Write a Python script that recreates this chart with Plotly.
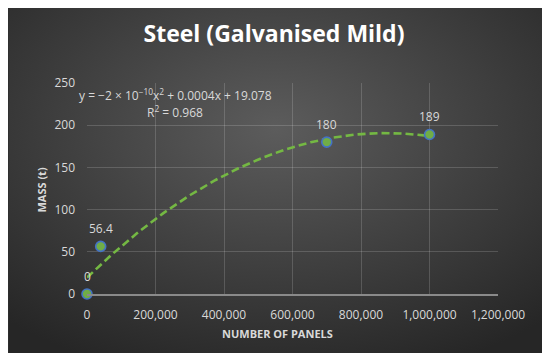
import base64
import numpy as np
import plotly.graph_objects as go

# ---- data ----
panels = [0, 40000, 700000, 1000000]
mass = [0, 56.4, 180, 189]
labels = ["0", "56.4", "180", "189"]
x_ticks = [0, 200000, 400000, 600000, 800000, 1000000, 1200000]
y_ticks = [0, 50, 100, 150, 200, 250]

# page body has an 8px margin, so the figure itself starts at (8, 8)
OFF = 8
W, H = 535, 345
ML, MR, MT, MB = 78.5, 45, 75, 59
PW, PH = W - ML - MR, H - MT - MB

def px(xp):  # reference-page pixel -> paper x
    return (xp - OFF - ML) / PW

def py(yp):  # reference-page pixel -> paper y
    return (H - MB - (yp - OFF)) / PH

FONT = "Open Sans"
TXT = "#d9d9d9"

# polynomial trendline from the data
coef = np.polyfit(panels, mass, 2)
tx = np.linspace(0, 1000000, 200)
ty = np.polyval(coef, tx)

fig = go.Figure()
fig.add_trace(go.Scatter(x=tx, y=ty, mode="lines",
                         line=dict(color="#74b843", width=2.6, dash="8px,4px"),
                         hoverinfo="skip", showlegend=False, cliponaxis=False))
fig.add_trace(go.Scatter(x=panels, y=mass, mode="markers",
                         marker=dict(size=10, color="#70ad47",
                                     line=dict(color="#4472c4", width=1.6)),
                         showlegend=False, cliponaxis=False))
for xv, yv, lb in zip(panels, mass, labels):
    fig.add_annotation(x=xv, y=yv, text=lb, showarrow=False, yshift=18,
                       xanchor="center", yanchor="middle",
                       font=dict(color=TXT, size=12, family=FONT))

svg = ('<svg xmlns="http://www.w3.org/2000/svg" width="535" height="345">'
       '<defs><radialGradient id="g" cx="0.5" cy="0.35" r="0.75">'
       '<stop offset="0" stop-color="#5c5c5c"/><stop offset="1" stop-color="#262626"/>'
       '</radialGradient></defs><rect width="535" height="345" fill="url(#g)"/></svg>')
src = "data:image/svg+xml;base64," + base64.b64encode(svg.encode()).decode()
fig.add_layout_image(dict(source=src, xref="paper", yref="paper",
                          x=-ML / PW, y=1 + MT / PH, sizex=W / PW, sizey=H / PH,
                          xanchor="left", yanchor="top", sizing="stretch",
                          layer="below"))

eq = "y = −2 × 10<sup>−10</sup>x<sup>2</sup> + 0.0004x + 19.078"
fig.add_annotation(text=eq, xref="paper", yref="paper", x=px(175), y=py(95),
                   xanchor="center", yanchor="middle", showarrow=False,
                   font=dict(color=TXT, size=12, family=FONT))
fig.add_annotation(text="R<sup>2</sup> = 0.968", xref="paper", yref="paper",
                   x=px(175), y=py(112), xanchor="center", yanchor="middle",
                   showarrow=False, font=dict(color=TXT, size=12, family=FONT))
fig.add_annotation(text="<b>NUMBER OF PANELS</b>", xref="paper", yref="paper",
                   x=px(277.5), y=py(333), xanchor="center", yanchor="middle",
                   showarrow=False, font=dict(color=TXT, size=11, family=FONT))
fig.add_annotation(text="<b>MASS (t)</b>", xref="paper", yref="paper",
                   x=px(40), y=py(190), xanchor="center", yanchor="middle",
                   textangle=-90, showarrow=False,
                   font=dict(color=TXT, size=11, family=FONT))

grid = "rgba(255,255,255,0.16)"
fig.update_layout(
    width=W, height=H,
    margin=dict(l=ML, r=MR, t=MT, b=MB, autoexpand=False),
    paper_bgcolor="#2e2e2e", plot_bgcolor="rgba(0,0,0,0)",
    title=dict(text="<b>Steel (Galvanised Mild)</b>", x=(274 - OFF) / W,
               xref="container", xanchor="center", yref="container",
               y=1 - (34 - OFF) / H, yanchor="middle",
               font=dict(color="white", size=23, family=FONT)),
    xaxis=dict(range=[0, 1200000], tickvals=x_ticks,
               ticktext=[f"{v:,}" for v in x_ticks],
               showgrid=True, gridcolor=grid, gridwidth=1,
               zeroline=False, showline=True, linecolor="#8a8a8a", linewidth=1.5,
               ticklabelstandoff=9,
               tickfont=dict(color=TXT, size=12, family=FONT)),
    yaxis=dict(range=[0, 250], tickvals=y_ticks,
               showgrid=True, gridcolor=grid, gridwidth=1,
               zeroline=False, showline=False, ticklabelstandoff=11,
               tickfont=dict(color=TXT, size=12, family=FONT)),
)
fig.write_html("out.html")
